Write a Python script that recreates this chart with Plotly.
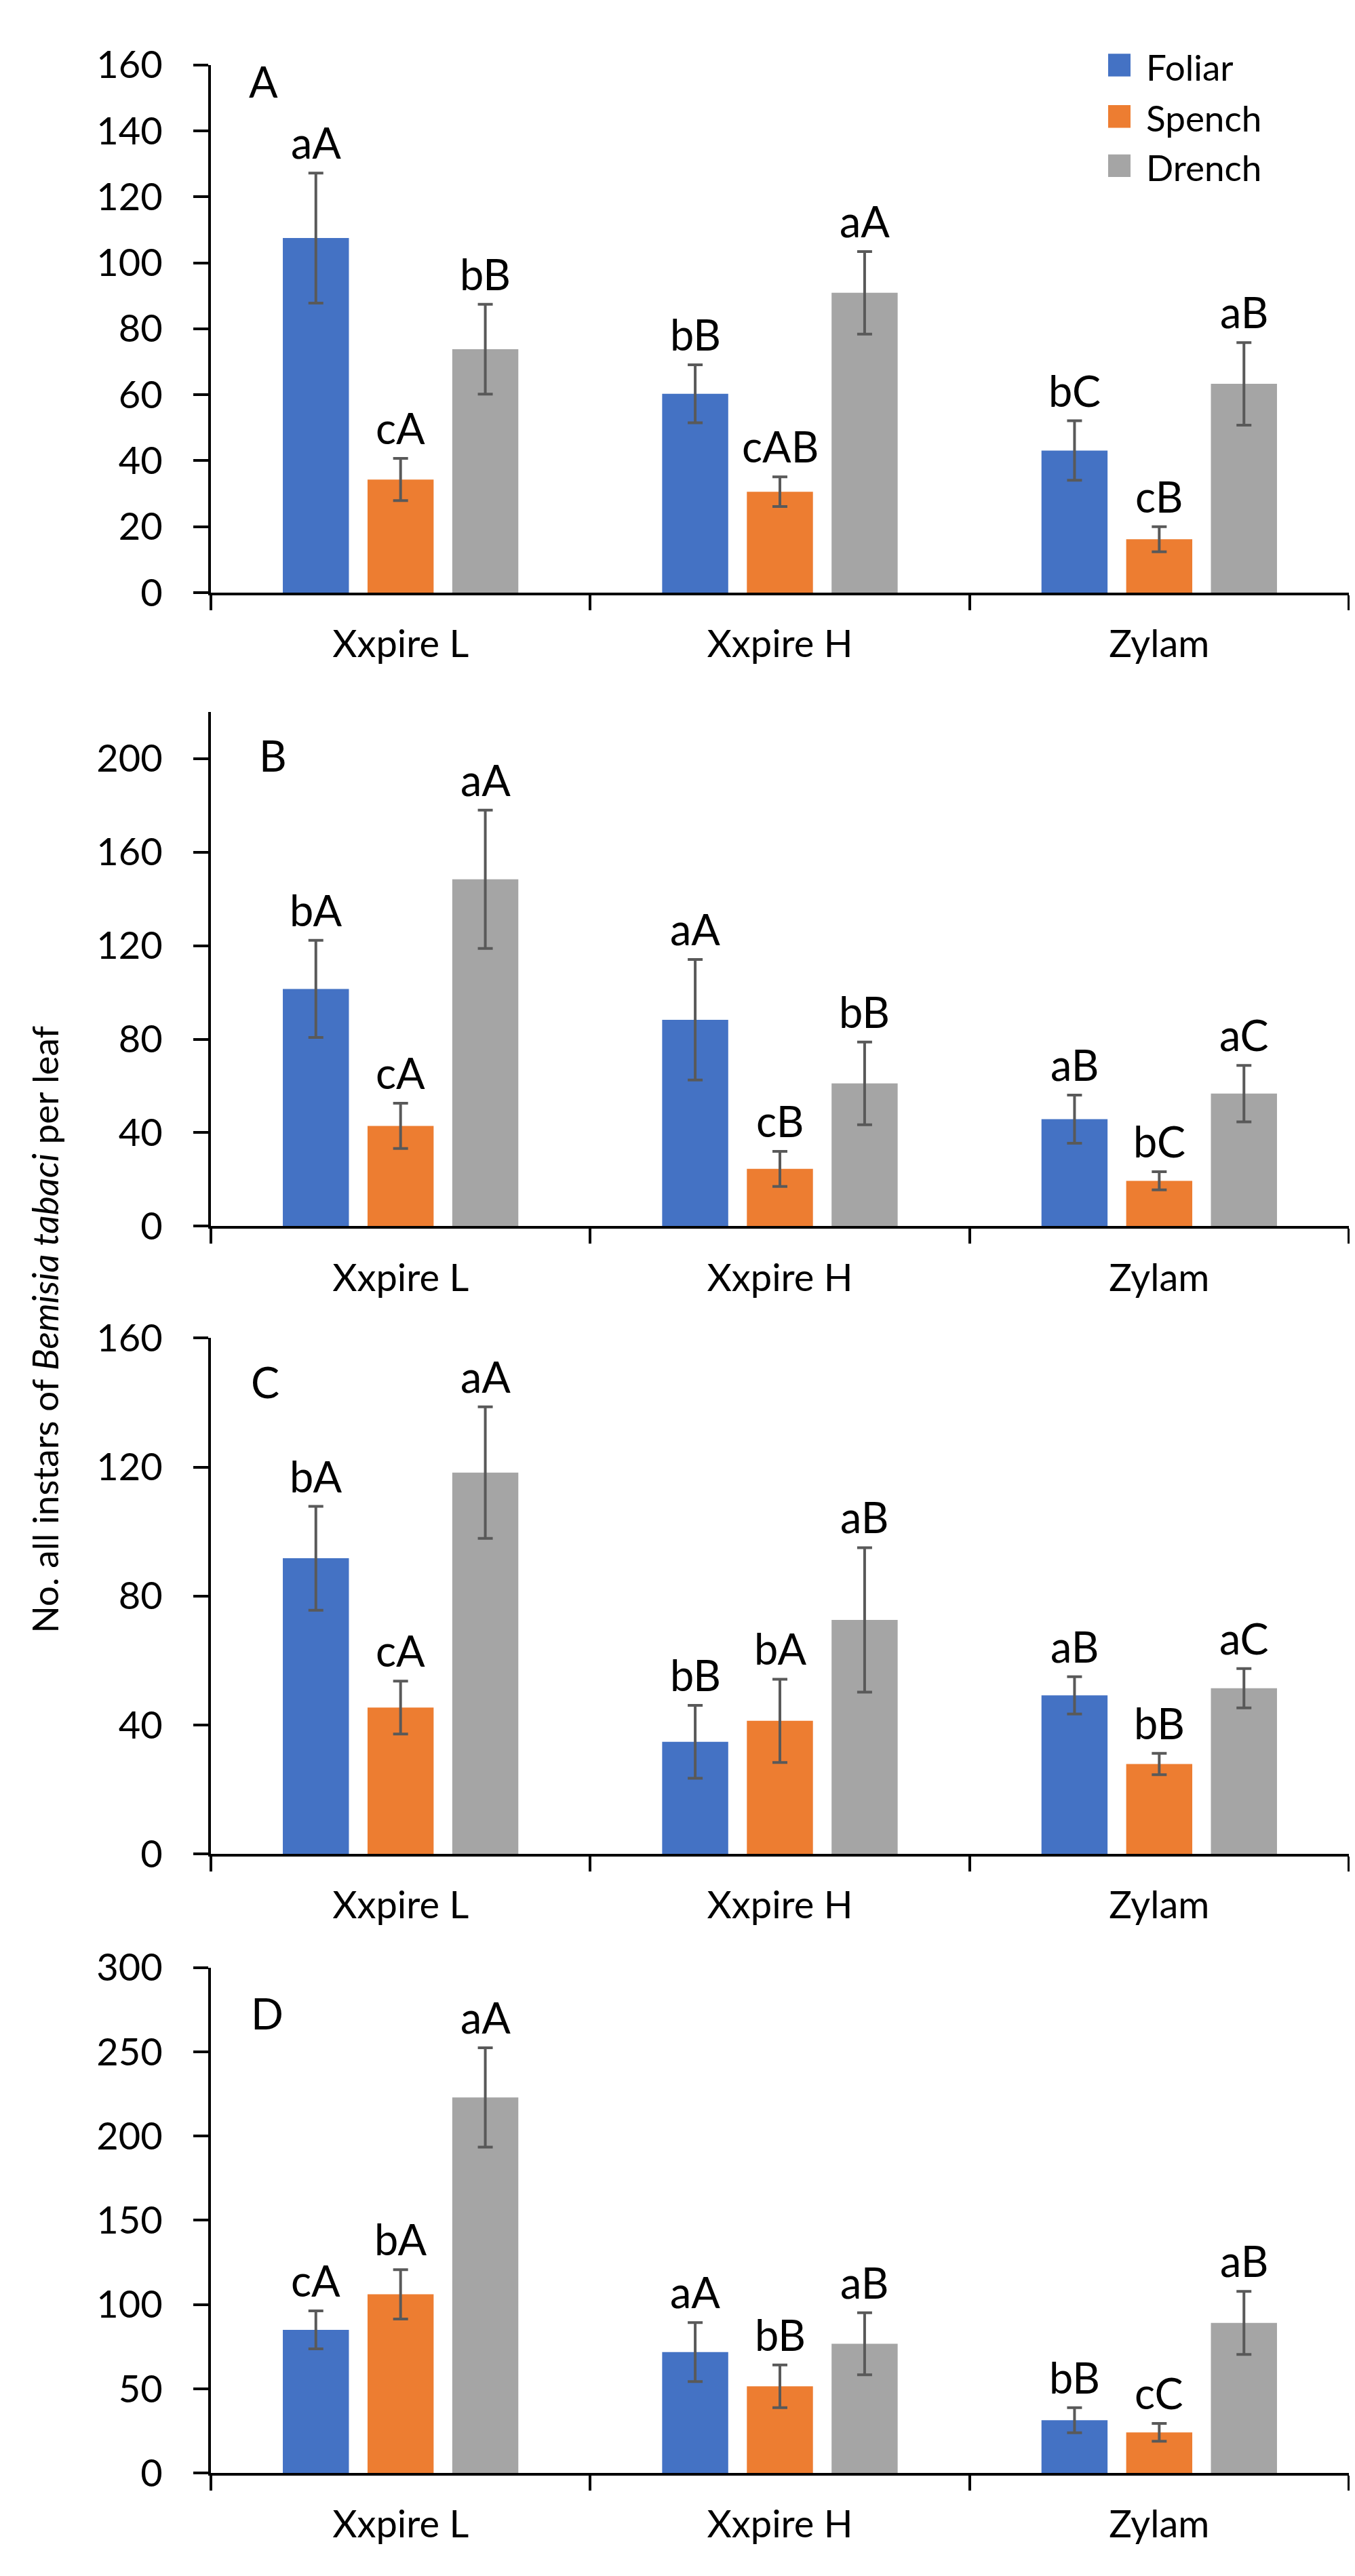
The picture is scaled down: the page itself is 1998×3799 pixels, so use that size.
import plotly.graph_objects as go
from plotly.subplots import make_subplots

W, H = 1998, 3799
FONT = "Lato, Carlito, 'Open Sans', sans-serif"

categories = ["Xxpire L", "Xxpire H", "Zylam"]
series_names = ["Foliar", "Spench", "Drench"]
colors = ["#4472C4", "#ED7D31", "#A5A5A5"]
panel_names = ["A", "B", "C", "D"]

# Panel A
A_foliar = [107.5, 60.3, 43.1]
A_foliar_err = [19.7, 8.8, 9.0]
A_spench = [34.3, 30.6, 16.2]
A_spench_err = [6.4, 4.5, 3.8]
A_drench = [73.8, 90.9, 63.3]
A_drench_err = [13.6, 12.5, 12.5]
A_foliar_lab = ["aA", "bB", "bC"]
A_spench_lab = ["cA", "cAB", "cB"]
A_drench_lab = ["bB", "aA", "aB"]

# Panel B
B_foliar = [101.5, 88.3, 45.8]
B_foliar_err = [20.8, 25.8, 10.3]
B_spench = [42.9, 24.5, 19.4]
B_spench_err = [9.7, 7.5, 3.9]
B_drench = [148.4, 61.1, 56.7]
B_drench_err = [29.6, 17.7, 12.1]
B_foliar_lab = ["bA", "aA", "aB"]
B_spench_lab = ["cA", "cB", "bC"]
B_drench_lab = ["aA", "bB", "aC"]

# Panel C
C_foliar = [91.7, 34.8, 49.2]
C_foliar_err = [16.1, 11.3, 5.8]
C_spench = [45.4, 41.3, 27.9]
C_spench_err = [8.2, 12.9, 3.3]
C_drench = [118.3, 72.6, 51.4]
C_drench_err = [20.4, 22.4, 6.1]
C_foliar_lab = ["bA", "bB", "aB"]
C_spench_lab = ["cA", "bA", "bB"]
C_drench_lab = ["aA", "aB", "aC"]

# Panel D
D_foliar = [85.0, 71.8, 31.4]
D_foliar_err = [11.3, 17.5, 7.4]
D_spench = [106.1, 51.5, 24.2]
D_spench_err = [14.6, 12.7, 5.3]
D_drench = [222.9, 76.8, 89.1]
D_drench_err = [29.5, 18.4, 18.7]
D_foliar_lab = ["cA", "aA", "bB"]
D_spench_lab = ["bA", "bB", "cC"]
D_drench_lab = ["aA", "aB", "aB"]

# Axis settings per panel
y_ranges = [[0, 160], [0, 220], [0, 160], [0, 300]]
y_tickvals = [
    [0, 20, 40, 60, 80, 100, 120, 140, 160],
    [0, 40, 80, 120, 160, 200],
    [0, 40, 80, 120, 160],
    [0, 50, 100, 150, 200, 250, 300],
]

panels = [
    ([A_foliar, A_spench, A_drench], [A_foliar_err, A_spench_err, A_drench_err],
     [A_foliar_lab, A_spench_lab, A_drench_lab]),
    ([B_foliar, B_spench, B_drench], [B_foliar_err, B_spench_err, B_drench_err],
     [B_foliar_lab, B_spench_lab, B_drench_lab]),
    ([C_foliar, C_spench, C_drench], [C_foliar_err, C_spench_err, C_drench_err],
     [C_foliar_lab, C_spench_lab, C_drench_lab]),
    ([D_foliar, D_spench, D_drench], [D_foliar_err, D_spench_err, D_drench_err],
     [D_foliar_lab, D_spench_lab, D_drench_lab]),
]

# layout in pixels (top, bottom) of each plot area
panel_px = [(53.6, 846), (1025, 1797), (1965, 2739.5), (2910, 3669)]
x_left_px, x_right_px = 303, 1981
letter_pos = [(357, 52), (372, 1064), (360, 2004), (360, 2952)]

BARGAP = 0.33
GROUPGAP = 0.22

fig = make_subplots(rows=4, cols=1)

annotations = []
for p, (vals, errs, labs) in enumerate(panels):
    row = p + 1
    for j in range(3):
        fig.add_trace(
            go.Bar(
                x=categories, y=vals[j], name=series_names[j],
                marker=dict(color=colors[j], line=dict(width=0)),
                error_y=dict(type="data", array=errs[j], color="#595959",
                             thickness=4, width=11),
                showlegend=False,
            ),
            row=row, col=1,
        )
        slot = (1 - BARGAP) / 3
        for i in range(3):
            annotations.append(dict(
                x=i + (j - 1) * slot, y=vals[j][i] + errs[j][i],
                xref=f"x{'' if row == 1 else row}", yref=f"y{'' if row == 1 else row}",
                text=labs[j][i], showarrow=False, xanchor="center", yanchor="bottom",
                yshift=6, font=dict(family=FONT, size=63, color="black"),
            ))
    top, bot = panel_px[p]
    fig.update_yaxes(
        domain=[1 - bot / H, 1 - top / H], range=y_ranges[p], tickvals=y_tickvals[p],
        showgrid=False, zeroline=False, showline=True, linecolor="black", linewidth=4,
        ticks="outside", ticklen=22, tickwidth=4, tickcolor="black",
        ticklabelstandoff=34,
        tickfont=dict(family=FONT, size=56, color="black"),
        row=row, col=1,
    )
    fig.update_xaxes(
        domain=[x_left_px / W, x_right_px / W], type="category",
        showgrid=False, zeroline=False, showline=True, linecolor="black", linewidth=4,
        ticks="outside", ticklen=22, tickwidth=4, tickcolor="black", tickson="boundaries",
        ticklabelstandoff=24,
        tickfont=dict(family=FONT, size=56, color="black"),
        row=row, col=1,
    )
    lx, ly = letter_pos[p]
    annotations.append(dict(
        x=lx / W, y=1 - (ly - 14) / H, xref="paper", yref="paper",
        text=panel_names[p], showarrow=False, xanchor="left", yanchor="top",
        font=dict(family=FONT, size=63, color="black"),
    ))

# Y-axis title
annotations.append(dict(
    x=58 / W, y=1 - 1952 / H, xref="paper", yref="paper",
    text="No. all instars of <i>Bemisia tabaci</i> per leaf", textangle=-90,
    showarrow=False, xanchor="center", yanchor="middle",
    font=dict(family=FONT, size=53, color="black"),
))

# Manual legend
shapes = []
legend_rows = [54, 131, 205]
for j in range(3):
    cy = legend_rows[j]
    shapes.append(dict(
        type="rect", xref="paper", yref="paper",
        x0=1626 / W, x1=1659 / W, y0=1 - (cy + 17) / H, y1=1 - (cy - 17) / H,
        fillcolor=colors[j], line=dict(width=0),
    ))
    annotations.append(dict(
        x=1680 / W, y=1 - (cy + 2) / H, xref="paper", yref="paper",
        text=series_names[j], showarrow=False, xanchor="left", yanchor="middle",
        font=dict(family=FONT, size=53, color="black"),
    ))

fig.update_layout(
    width=W, height=H, autosize=False,
    margin=dict(l=0, r=0, t=0, b=0),
    paper_bgcolor="white", plot_bgcolor="white",
    barmode="group", bargap=BARGAP, bargroupgap=GROUPGAP,
    annotations=annotations, shapes=shapes,
    font=dict(family=FONT, color="black"),
)

fig.write_html("out.html")
